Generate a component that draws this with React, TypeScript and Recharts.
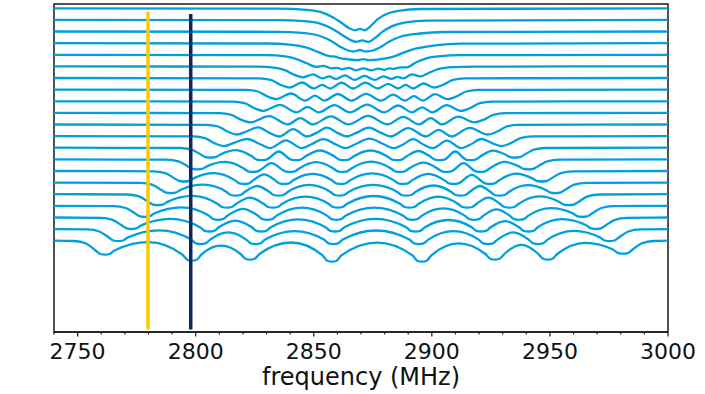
import React from 'react';
import { LineChart, Line, XAxis, YAxis, ReferenceLine, ReferenceArea } from 'recharts';

// frequency axis ticks (MHz): minor every 10, labelled every 50
const freqTicks = [2740, 2750, 2760, 2770, 2780, 2790, 2800, 2810, 2820, 2830, 2840, 2850, 2860, 2870, 2880, 2890, 2900, 2910, 2920, 2930, 2940, 2950, 2960, 2970, 2980, 2990, 3000];

// vertical offset (a.u.) of each stacked spectrum, top spectrum first
const traceOffsets = [232.4, 220.8, 209.2, 197.5, 185.9, 174.3, 162.7, 151.1, 139.4, 127.8, 116.2, 104.6, 93.0, 81.3, 69.7, 58.1, 46.5, 34.9, 23.2, 11.6, 0];

// each spectrum: [frequency MHz, PL drop a.u.] key points
const tr0 = [[2740,0],[2835,0.3],[2847,1.5],[2854,4.5],[2858,9],[2862,15],[2865,20],[2867.5,22],[2869.5,20.5],[2871.5,22],[2874,18],[2877,11],[2881,5.5],[2886,2.5],[2895,0.7],[3000,0]];
const tr1 = [[2740,0],[2835,0.3],[2846,1.3],[2853,4],[2858,9],[2862,15],[2865.5,20],[2868,22],[2870.5,20.5],[2873,22],[2876,18],[2879,12],[2883,6.5],[2889,2.5],[2898,0.7],[3000,0]];
const tr2 = [[2740,0],[2835,0.3],[2845,1.3],[2852,4],[2857,9],[2861,15],[2864.5,19],[2867,20],[2869.5,18.5],[2872,20],[2875,19],[2878,16],[2882,10],[2887,5],[2895,2],[2905,0.5],[3000,0]];
const tr3 = [[2740,0],[2830,0.3],[2840,1.5],[2847,4.5],[2852,9],[2856.6,13],[2859,13.5],[2861.1,15],[2864.2,16],[2868.5,17],[2871,16],[2873.2,17],[2877,16.5],[2879.8,15.5],[2883.7,13.5],[2888,9.5],[2894,5],[2902,2],[2912,0.5],[3000,0]];
const tr4 = [[2740,0],[2830,0.3],[2838,1.5],[2843,4.5],[2847,8.5],[2851,12],[2854,11],[2857.4,13.5],[2860,13],[2861.8,14.5],[2864.8,13],[2867.8,15.5],[2871,13.5],[2874.5,15.5],[2877.2,13.8],[2879.9,15],[2882,13.5],[2883.9,14],[2886.5,12.5],[2889.4,12.5],[2893,8],[2897,4],[2903,1.5],[2912,0.3],[3000,0]];
const tr5 = [[2740,0],[2826,0.3],[2834,1.5],[2838,4],[2841.4,8],[2845.4,11],[2849.6,8],[2853.8,12],[2856.5,10],[2859.3,12.5],[2863.2,9],[2867.2,13.5],[2871.5,9.5],[2875.9,13.5],[2879.4,10],[2882.9,12.5],[2885.4,10.5],[2887.9,12],[2891.5,8],[2895.2,10],[2899.2,6],[2903,2.5],[2909,0.8],[2918,0.2],[3000,0]];
const tr6 = [[2740,0],[2826.8,0.3],[2831.8,1.9],[2835.8,6.7],[2839.8,9.5],[2845,4.5],[2850.1,10.5],[2853.5,6.8],[2856.9,10.5],[2861.8,4.7],[2866.6,10.5],[2871.9,4.7],[2877.2,10.5],[2881.5,5.8],[2885.8,10.5],[2888.9,6.8],[2892,10.5],[2896.5,5.5],[2900.9,9.5],[2904.9,6.7],[2908.9,1.9],[2913.9,0.3],[3000,0]];
const tr7 = [[2740,0],[2821.2,0.3],[2826.2,1.9],[2830.2,6.7],[2834.2,9.5],[2840.3,3.9],[2846.4,11],[2850.5,6],[2854.5,11],[2860.2,4.4],[2865.9,11],[2872.2,4.2],[2878.5,11],[2883.6,5],[2888.7,11],[2892.4,6.6],[2896.1,11],[2901.4,4.6],[2906.6,9.5],[2910.6,6.7],[2914.6,1.9],[2919.6,0.3],[3000,0]];
const tr8 = [[2740,0],[2815.7,0.3],[2820.7,1.9],[2824.7,6.7],[2828.7,9.5],[2835.7,3.6],[2842.7,11],[2847.4,5.5],[2852.1,11],[2858.7,3.9],[2865.3,11],[2872.6,3.3],[2879.8,11],[2885.7,4.2],[2891.6,11],[2895.9,6],[2900.2,11],[2906.3,3.9],[2912.3,9.5],[2916.3,6.7],[2920.3,1.9],[2925.3,0.3],[3000,0]];
const tr9 = [[2740,0],[2810.1,0.3],[2815.1,1.9],[2819.1,6.7],[2823.1,9.5],[2831.1,3.2],[2839,11.5],[2844.3,5.2],[2849.6,11.5],[2857.2,3.5],[2864.7,11.5],[2873,3],[2881.2,11.5],[2887.9,4],[2894.6,11.5],[2899.5,5.2],[2904.3,11.5],[2911.2,3.7],[2918,9.5],[2922,6.7],[2926,1.9],[2931,0.3],[3000,0]];
const tr10 = [[2740,0],[2804.5,0.3],[2809.5,2],[2813.5,7],[2817.5,10],[2821.5,7],[2826.4,2.9],[2831.3,8.4],[2835.3,12],[2841.3,4.6],[2847.2,12],[2851.2,8.4],[2855.6,3.1],[2860,8.4],[2864,12],[2868,8.4],[2873.3,3.1],[2878.5,8.4],[2882.5,12],[2890,3.6],[2897.5,12],[2902.9,5.4],[2908.3,12],[2916,3.3],[2923.7,10],[2927.7,7],[2931.7,2],[2936.7,0.3],[3000,0]];
const tr11 = [[2740,0],[2798.9,0.3],[2803.9,2],[2807.9,7],[2811.9,10],[2815.9,7],[2821.8,2.9],[2827.6,8.4],[2831.6,12],[2838.2,4.2],[2844.8,12],[2848.8,8.4],[2854.1,3.1],[2859.4,8.4],[2863.4,12],[2867.4,8.4],[2873.6,2.6],[2879.8,8.4],[2883.8,12],[2887.8,8.4],[2892.1,3.1],[2896.4,8.4],[2900.4,12],[2906.4,4.6],[2912.4,12],[2916.4,8.4],[2921,2.9],[2925.5,7],[2929.5,10],[2933.5,7],[2937.5,2],[2942.5,0.3],[3000,0]];
const tr12 = [[2740,0],[2793.3,0.3],[2798.3,2],[2802.3,7],[2804.3,9.5],[2806.3,10],[2808.3,9.5],[2810.3,7],[2817.1,2.5],[2823.9,8.8],[2825.9,11.9],[2827.9,12.5],[2829.9,11.9],[2835.2,3.8],[2840.4,11.9],[2842.4,12.5],[2844.4,11.9],[2846.4,8.8],[2852.6,2.8],[2858.8,8.8],[2860.8,11.9],[2862.8,12.5],[2864.8,11.9],[2866.8,8.8],[2874,2.8],[2881.2,8.8],[2883.2,11.9],[2885.2,12.5],[2887.2,11.9],[2889.2,8.8],[2894.3,3.3],[2899.3,8.8],[2901.3,11.9],[2903.3,12.5],[2905.3,11.9],[2909.9,3.8],[2914.5,11.9],[2916.5,12.5],[2918.5,11.9],[2920.5,8.8],[2925.9,2.9],[2931.2,7],[2933.2,9.5],[2935.2,10],[2937.2,9.5],[2939.2,7],[2943.2,2],[2948.2,0.3],[3000,0]];
const tr13 = [[2740,0],[2787.7,0.3],[2792.7,2],[2796.7,7],[2798.7,9.5],[2800.7,10],[2802.7,9.5],[2804.7,7],[2812.5,2.5],[2820.2,8.8],[2822.2,11.9],[2824.2,12.5],[2826.2,11.9],[2832.1,3.8],[2838,11.9],[2840,12.5],[2842,11.9],[2844,8.8],[2851.1,2.8],[2858.1,8.8],[2860.1,11.9],[2862.1,12.5],[2864.1,11.9],[2866.1,8.8],[2874.3,2.3],[2882.5,8.8],[2884.5,11.9],[2886.5,12.5],[2888.5,11.9],[2890.5,8.8],[2896.4,3.3],[2902.2,8.8],[2904.2,11.9],[2906.2,12.5],[2908.2,11.9],[2913.4,3.8],[2918.6,11.9],[2920.6,12.5],[2922.6,11.9],[2924.6,8.8],[2930.8,2.5],[2936.9,7],[2938.9,9.5],[2940.9,10],[2942.9,9.5],[2944.9,7],[2948.9,2],[2953.9,0.3],[3000,0]];
const tr14 = [[2740,0],[2782.1,0.3],[2787.1,2.1],[2791.1,7.4],[2793.1,10],[2795.1,10.5],[2797.1,10],[2799.1,7.4],[2807.8,2.1],[2816.5,9.1],[2818.5,12.4],[2820.5,13],[2822.5,12.4],[2824.5,9.1],[2829,3.4],[2833.5,9.1],[2835.5,12.4],[2837.5,13],[2839.5,12.4],[2841.5,9.1],[2849.5,2.9],[2857.5,9.1],[2859.5,12.4],[2861.5,13],[2863.5,12.4],[2865.5,9.1],[2874.7,2.3],[2883.8,9.1],[2885.8,12.4],[2887.8,13],[2889.8,12.4],[2891.8,9.1],[2898.5,2.9],[2905.2,9.1],[2907.2,12.4],[2909.2,13],[2911.2,12.4],[2916.9,3.9],[2922.6,12.4],[2924.6,13],[2926.6,12.4],[2928.6,9.1],[2935.6,2.6],[2942.6,7.4],[2944.6,10],[2946.6,10.5],[2948.6,10],[2950.6,7.4],[2954.6,2.1],[2959.6,0.3],[3000,0]];
const tr15 = [[2740,0],[2776.5,0.3],[2781.5,2.1],[2785.5,7.4],[2787.5,10],[2789.5,10.5],[2791.5,10],[2793.5,7.4],[2803.2,2.1],[2812.9,9.1],[2814.9,12.4],[2816.9,13],[2818.9,12.4],[2820.9,9.1],[2826,3.4],[2831.1,9.1],[2833.1,12.4],[2835.1,13],[2837.1,12.4],[2839.1,9.1],[2848,2.3],[2856.9,9.1],[2858.9,12.4],[2860.9,13],[2862.9,12.4],[2864.9,9.1],[2875.1,2.3],[2885.2,9.1],[2887.2,12.4],[2889.2,13],[2891.2,12.4],[2893.2,9.1],[2900.7,2.9],[2908.1,9.1],[2910.1,12.4],[2912.1,13],[2914.1,12.4],[2916.1,9.1],[2920.4,3.4],[2924.7,9.1],[2926.7,12.4],[2928.7,13],[2930.7,12.4],[2932.7,9.1],[2940.5,2.6],[2948.3,7.4],[2950.3,10],[2952.3,10.5],[2954.3,10],[2956.3,7.4],[2960.3,2.1],[2965.3,0.3],[3000,0]];
const tr16 = [[2740,0],[2771,0.3],[2776,2.2],[2780,7.7],[2782,10.5],[2784,11],[2786,10.5],[2788,7.7],[2798.6,1.6],[2809.2,9.5],[2811.2,12.8],[2813.2,13.5],[2815.2,12.8],[2817.2,9.5],[2823,3.5],[2828.7,9.5],[2830.7,12.8],[2832.7,13.5],[2834.7,12.8],[2836.7,9.5],[2846.5,2.4],[2856.2,9.5],[2858.2,12.8],[2860.2,13.5],[2862.2,12.8],[2864.2,9.5],[2875.4,1.8],[2886.5,9.5],[2888.5,12.8],[2890.5,13.5],[2892.5,12.8],[2894.5,9.5],[2902.8,2.4],[2911,9.5],[2913,12.8],[2915,13.5],[2917,12.8],[2919,9.5],[2923.9,3.5],[2928.8,9.5],[2930.8,12.8],[2932.8,13.5],[2934.8,12.8],[2936.8,9.5],[2945.4,2.2],[2954,7.7],[2956,10.5],[2958,11],[2960,10.5],[2962,7.7],[2966,2.2],[2971,0.3],[3000,0]];
const tr17 = [[2740,0],[2765.4,0.3],[2770.4,2.2],[2774.4,7.7],[2776.4,10.5],[2778.4,11],[2780.4,10.5],[2782.4,7.7],[2794,1.6],[2805.5,9.8],[2807.5,13.3],[2809.5,14],[2811.5,13.3],[2813.5,9.8],[2819.9,3.1],[2826.3,9.8],[2828.3,13.3],[2830.3,14],[2832.3,13.3],[2834.3,9.8],[2845,1.8],[2855.6,9.8],[2857.6,13.3],[2859.6,14],[2861.6,13.3],[2863.6,9.8],[2875.7,1.8],[2887.8,9.8],[2889.8,13.3],[2891.8,14],[2893.8,13.3],[2895.8,9.8],[2904.9,2.5],[2913.9,9.8],[2915.9,13.3],[2917.9,14],[2919.9,13.3],[2921.9,9.8],[2927.4,3.6],[2932.9,9.8],[2934.9,13.3],[2936.9,14],[2938.9,13.3],[2940.9,9.8],[2950.4,2.3],[2959.8,7.7],[2961.8,10.5],[2963.8,11],[2965.8,10.5],[2967.8,7.7],[2971.8,2.2],[2976.8,0.3],[3000,0]];
const tr18 = [[2740,0],[2759.8,0.3],[2764.8,2.3],[2768.8,8.1],[2770.8,10.9],[2772.8,11.5],[2774.8,10.9],[2776.8,8.1],[2789.3,1.4],[2801.8,9.8],[2803.8,13.3],[2805.8,14],[2807.8,13.3],[2809.8,9.8],[2816.8,3.1],[2823.8,9.8],[2825.8,13.3],[2827.8,14],[2829.8,13.3],[2831.8,9.8],[2843.4,1.8],[2855,9.8],[2857,13.3],[2859,14],[2861,13.3],[2863,9.8],[2876.1,1.3],[2889.1,9.8],[2891.1,13.3],[2893.1,14],[2895.1,13.3],[2897.1,9.8],[2907,2.5],[2916.9,9.8],[2918.9,13.3],[2920.9,14],[2922.9,13.3],[2924.9,9.8],[2930.9,3.6],[2936.9,9.8],[2938.9,13.3],[2940.9,14],[2942.9,13.3],[2944.9,9.8],[2955.2,1.7],[2965.5,8.1],[2967.5,10.9],[2969.5,11.5],[2971.5,10.9],[2973.5,8.1],[2977.5,2.3],[2982.5,0.3],[3000,0]];
const tr19 = [[2740,0],[2754.2,0.3],[2759.2,2.4],[2763.2,8.4],[2765.2,11.4],[2767.2,12],[2769.2,11.4],[2771.2,8.4],[2784.6,1.2],[2798.1,10.5],[2800.1,14.3],[2802.1,15],[2804.1,14.3],[2806.1,10.5],[2813.8,3.3],[2821.4,10.5],[2823.4,14.3],[2825.4,15],[2827.4,14.3],[2829.4,10.5],[2841.9,2],[2854.3,10.5],[2856.3,14.3],[2858.3,15],[2860.3,14.3],[2862.3,10.5],[2876.4,1.4],[2890.5,10.5],[2892.5,14.3],[2894.5,15],[2896.5,14.3],[2898.5,10.5],[2909.2,2],[2919.8,10.5],[2921.8,14.3],[2923.8,15],[2925.8,14.3],[2927.8,10.5],[2934.4,3.3],[2941,10.5],[2943,14.3],[2945,15],[2947,14.3],[2949,10.5],[2960.1,1.8],[2971.2,8.4],[2973.2,11.4],[2975.2,12],[2977.2,11.4],[2979.2,8.4],[2983.2,2.4],[2988.2,0.3],[3000,0]];
const tr20 = [[2740,0],[2748.6,0.3],[2753.6,2.8],[2757.6,9.8],[2759.6,13.3],[2761.6,14],[2763.6,13.3],[2765.6,9.8],[2780,1.5],[2794.4,14],[2796.4,19],[2798.4,20],[2800.4,19],[2802.4,14],[2810.7,5],[2819,13.3],[2821,18],[2823,19],[2825,18],[2827,13.3],[2840.4,1.8],[2853.7,14.7],[2855.7,20],[2857.7,21],[2859.7,20],[2861.7,14.7],[2876.8,1.9],[2891.8,14.7],[2893.8,20],[2895.8,21],[2897.8,20],[2899.8,14.7],[2911.3,2.6],[2922.7,13.3],[2924.7,18],[2926.7,19],[2928.7,18],[2930.7,13.3],[2937.9,4.2],[2945.1,13.3],[2947.1,18],[2949.1,19],[2951.1,18],[2953.1,13.3],[2965,2.1],[2976.9,9.1],[2978.9,12.4],[2980.9,13],[2982.9,12.4],[2984.9,9.1],[2988.9,2.6],[2994,0.3],[3000,0]];

const traces = [tr0, tr1, tr2, tr3, tr4, tr5, tr6, tr7, tr8, tr9, tr10, tr11, tr12, tr13, tr14, tr15, tr16, tr17, tr18, tr19, tr20];

// marker frequencies (MHz) and their extent in PL units
const markerFreqs = [2779.8, 2797.9];
const markerTops = [229, 226.7];
const markerBottom = -88.8;

const plDomain = [-91.3, 236.7];
const freqDomain = [2740, 3000];

const seriesData = traces.map((t, k) => t.map(([f, d]) => ({ f, v: traceOffsets[k] - d })));

const TRACE_COLOR = '#00A0DE';
const MARKER_COLORS = ['#FFC805', '#0C2860'];
const AXIS_COLOR = '#1a1a1a';
const FONT = '"DejaVu Sans", sans-serif';

const FreqTick = (props: any) => {
  const { x, y, payload } = props;
  const v = payload.value;
  const major = v % 50 === 0;
  return (
    <g>
      <line x1={x} y1={y} x2={x} y2={y + (major ? 4.5 : 2.5)} stroke={AXIS_COLOR} strokeWidth={1.2} />
      {major && (
        <text x={x} y={y + 27} textAnchor="middle" fontFamily={FONT} fontSize={22} fill="#111">
          {v}
        </text>
      )}
    </g>
  );
};

export default function App() {
  return (
    <div style={{ position: 'absolute', left: 0, top: 0, width: 705, height: 394, background: '#fff' }}>
      <LineChart width={705} height={394} margin={{ top: 4, right: 37, bottom: 0, left: 54 }}>
        <XAxis
          type="number"
          dataKey="f"
          domain={freqDomain}
          ticks={freqTicks}
          interval={0}
          allowDataOverflow
          height={62}
          tickSize={0}
          tickMargin={0}
          tickLine={false}
          tick={(p: any) => <FreqTick {...p} />}
          axisLine={{ stroke: AXIS_COLOR, strokeWidth: 1.5 }}
          label={() => (
            <text x={361} y={385} textAnchor="middle" fontFamily={FONT} fontSize={24} fill="#111">
              frequency (MHz)
            </text>
          )}
        />
        <YAxis
          type="number"
          domain={plDomain}
          allowDataOverflow
          width={0}
          tick={false}
          tickLine={false}
          axisLine={{ stroke: AXIS_COLOR, strokeWidth: 1.5 }}
          label={() => (
            <text
              x={45}
              y={168}
              transform="rotate(-90, 45, 168)"
              textAnchor="middle"
              fontFamily={FONT}
              fontSize={20}
              fill="#111"
            >
              PL (a. u.)
            </text>
          )}
        />
        <ReferenceArea
          x1={freqDomain[0]}
          x2={freqDomain[1]}
          y1={plDomain[0]}
          y2={plDomain[1]}
          fill="none"
          fillOpacity={0}
          stroke={AXIS_COLOR}
          strokeWidth={1.5}
          ifOverflow="visible"
        />
        {seriesData.map((d, i) => (
          <Line
            key={i}
            data={d}
            dataKey="v"
            type="monotone"
            stroke={TRACE_COLOR}
            strokeWidth={2.3}
            dot={false}
            activeDot={false}
            isAnimationActive={false}
          />
        ))}
        {markerFreqs.map((f, i) => (
          <ReferenceLine
            key={'m' + i}
            segment={[{ x: f, y: markerBottom }, { x: f, y: markerTops[i] }]}
            stroke={MARKER_COLORS[i]}
            strokeWidth={3.5}
            ifOverflow="visible"
          />
        ))}
      </LineChart>
    </div>
  );
}
